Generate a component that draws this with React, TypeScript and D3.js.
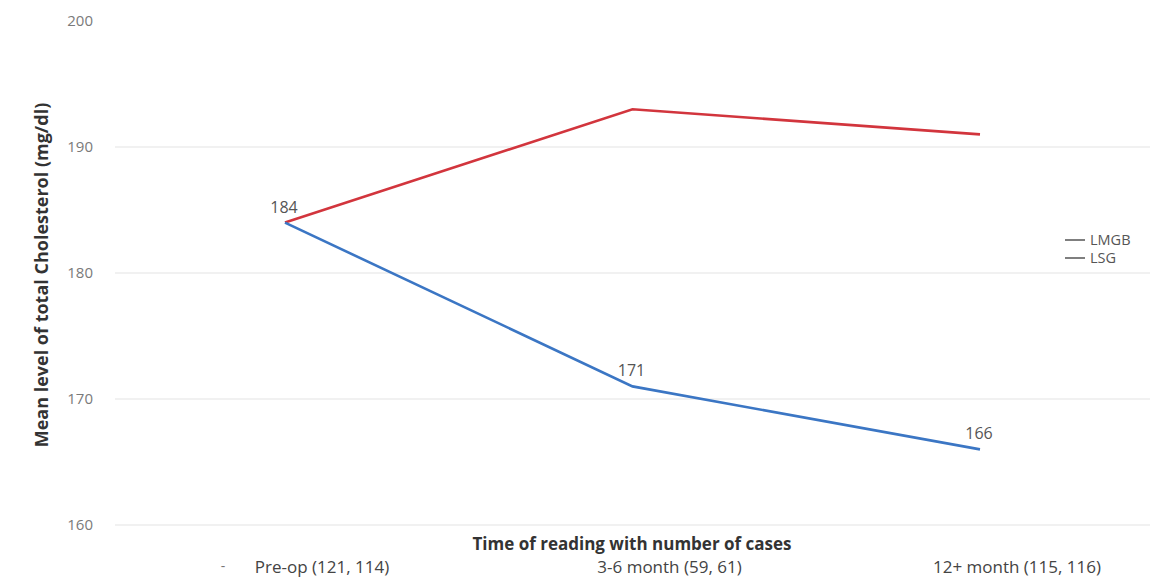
import React from "react";
import * as d3 from "d3";

const categories = ["Pre-op (121, 114)", "3-6 month (59, 61)", "12+ month (115, 116)"];
const lmgbValues = [184, 193, 191];
const lsgValues = [184, 171, 166];
const seriesNames = ["LMGB", "LSG"];
const yTicks = [160, 170, 180, 190, 200];

const W = 1150;
const H = 585;
const FONT = "'Open Sans', 'Noto Sans', sans-serif";

export default function App() {
  const x = d3.scalePoint<string>().domain(categories).range([285, 980]);
  const y = d3.scaleLinear().domain([160, 200]).range([525, 21]);

  const line = d3
    .line<number>()
    .x((_, i) => x(categories[i]) as number)
    .y((d) => y(d));

  return (
    <svg
      width={W}
      height={H}
      style={{ position: "absolute", left: 0, top: 0, background: "#fff" }}
      fontFamily={FONT}
    >
      {/* gridlines and y tick labels */}
      {yTicks.map((t) => (
        <g key={t}>
          {t !== 200 && (
            <line x1={115} x2={W} y1={y(t)} y2={y(t)} stroke="#e3e3e3" strokeWidth={1.2} />
          )}
          <text x={93} y={y(t)} dy="0.35em" textAnchor="end" fontSize={15} fill="#7a7a7a">
            {t}
          </text>
        </g>
      ))}

      {/* series lines */}
      <path d={line(lmgbValues) ?? ""} fill="none" stroke="#d2353d" strokeWidth={2.6} />
      <path d={line(lsgValues) ?? ""} fill="none" stroke="#3b76c4" strokeWidth={2.6} />

      {/* value labels */}
      {lsgValues.map((v, i) => (
        <text
          key={i}
          x={(x(categories[i]) as number) - 1}
          y={y(v) - 10}
          textAnchor="middle"
          fontSize={16}
          fill="#555"
        >
          {v}
        </text>
      ))}

      {/* category labels */}
      <text x={223} y={571} textAnchor="middle" fontSize={14} fill="#777">-</text>
      {categories.map((c) => (
        <text
          key={c}
          x={(x(c) as number) + 37}
          y={573}
          textAnchor="middle"
          fontSize={17}
          fill="#444"
        >
          {c}
        </text>
      ))}

      {/* axis titles */}
      <text x={632} y={550} textAnchor="middle" fontSize={17} fontWeight="bold" fill="#333">
        Time of reading with number of cases
      </text>
      <text
        transform={`translate(48, 275) rotate(-90)`}
        textAnchor="middle"
        fontSize={18}
        fontWeight="bold"
        fill="#333"
      >
        Mean level of total Cholesterol (mg/dl)
      </text>

      {/* legend */}
      {seriesNames.map((s, i) => (
        <g key={s} transform={`translate(1065, ${240 + i * 18})`}>
          <line x1={0} x2={20} y1={0} y2={0} stroke="#555" strokeWidth={1.5} />
          <text x={25} y={0} dy="0.35em" fontSize={14.5} fill="#555">
            {s}
          </text>
        </g>
      ))}
    </svg>
  );
}
